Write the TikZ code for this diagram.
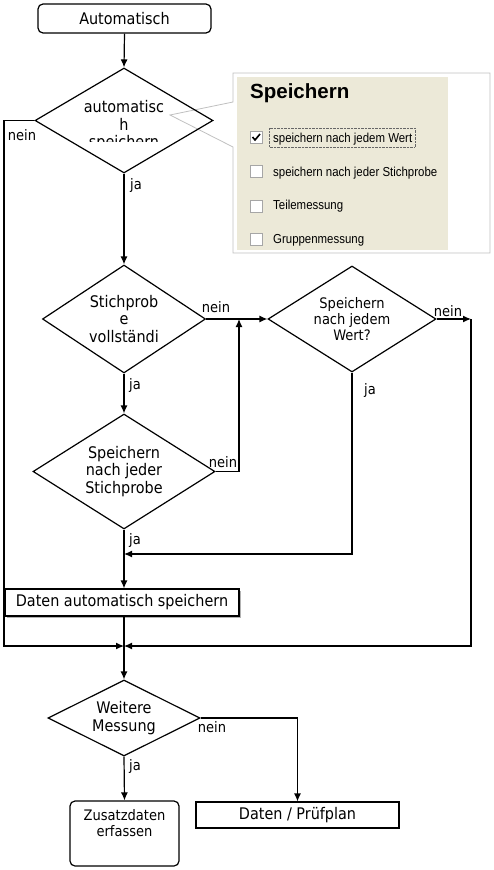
\documentclass[tikz,border=0pt]{standalone}
\usepackage{fontspec}
\setmainfont{DejaVu Sans Condensed}
\newfontfamily\panelfont{Liberation Sans}[FakeStretch=0.88]
\newfontfamily\panelhead{Liberation Sans}
\usepackage{xcolor}
\usepackage{tikz}
\usetikzlibrary{shapes.geometric}
\usetikzlibrary{arrows.meta}
\usetikzlibrary{positioning}
\usetikzlibrary{shadows}

\definecolor{panelbeige}{RGB}{236,233,216}
\definecolor{panelrim}{RGB}{192,192,192}

\newcommand{\flowtext}{\fontsize{16}{17.5}\selectfont}
\newcommand{\flowsmall}{\fontsize{14.5}{16}\selectfont}

\tikzset{
  link/.style={line width=1.2pt},
  flow/.style={link, -{Latex[length=8pt,width=7pt]}},
  decision/.style={diamond, draw, line width=1.2pt, inner sep=0pt, align=center, font=\flowtext},
  procbox/.style={rectangle, draw, line width=1.2pt, fill=white, font=\flowtext},
  roundbox/.style={procbox, rounded corners=5pt},
  answer/.style={font=\flowsmall, inner sep=0pt},
  checkbox/.style={draw=gray!70, fill=white, line width=0.8pt, minimum size=12pt, inner sep=0pt},
  option/.style={font=\panelfont\fontsize{13}{15}\selectfont, anchor=base west, inner sep=0pt},
}

\begin{document}
\begin{tikzpicture}[x=1pt,y=-1pt]
\useasboundingbox (0,0) rectangle (493,870);
% dialog screenshot
\fill[white] (233,73) rectangle (490,253);
\fill[panelbeige] (237,77) rectangle (448,250);
\draw[panelrim, line width=0.8pt] (170,115) -- (233,102) -- (233,73) -- (490,73)
   -- (490,253) -- (233,253) -- (233,147) -- cycle;
\node[anchor=base west, inner sep=0pt, font=\panelhead\bfseries\fontsize{20.5}{24}\selectfont] (dlgTitle) at (250,98.5) {Speichern};
\node[checkbox] (cbValue) at (256.5,137.5) {};
\node[checkbox] (cbSample) at (256.5,171) {};
\node[checkbox] (cbPart) at (256.5,206) {};
\node[checkbox] (cbGroup) at (256.5,239.5) {};
\draw[line width=1.6pt] (252.5,137) -- (255,140) -- (260,134);
\node[option] (optValue) at (273,142.7) {speichern nach jedem Wert};
\draw[densely dotted, gray!80!black] (269,128) rectangle (415,147);
\node[option] (optSample) at (273,176) {speichern nach jeder Stichprobe};
\node[option] (optPart) at (273,209) {Teilemessung};
\node[option] (optGroup) at (273,243) {Gruppenmessung};

% flow chart
\node[roundbox, minimum width=173pt, minimum height=29pt] (start) at (124.5,18.5) {Automatisch};
\node[decision, minimum width=178pt, minimum height=105pt] (decAuto) at (124,120.5) {};
\begin{scope}
\clip (35,68) rectangle (213,141.5);
\node[font=\flowtext, align=center] (autoText) at (124,126) {automatisc\\h\\speichern};
\end{scope}
\node[decision, aspect=1.5, minimum width=163pt, minimum height=108pt] (decSample) at (124,319) {Stichprob\\e\\vollständi};
\node[decision, aspect=1.6, minimum width=168pt, minimum height=106pt, font=\flowsmall] (decValue) at (352,319) {Speichern\\nach jedem\\Wert?};
\node[decision, aspect=1.6, minimum width=182pt, minimum height=115pt] (decGroup) at (124,471.5) {Speichern\\nach jeder\\Stichprobe};
\node[procbox, minimum width=234pt, minimum height=27pt,
   drop shadow={shadow xshift=1.5pt, shadow yshift=-1.5pt, fill=gray!60, opacity=1}] (save) at (122,602.5) {Daten automatisch speichern};
\node[decision, aspect=2, minimum width=152pt, minimum height=76pt] (decMore) at (124,718) {Weitere\\Messung};
\node[roundbox, minimum width=109pt, minimum height=65pt] (extra) at (124.5,833.5) {};
\node[below=6pt of extra.north, font=\flowsmall, align=center] (extraText) {Zusatzdaten\\erfassen};
\node[procbox, minimum width=203pt, minimum height=26pt] (plan) at (297.5,815) {Daten / Prüfplan};

\coordinate (railL) at (4,646);
\coordinate (join) at (124,646);
\coordinate (railRtop) at (471,319);
\coordinate (railR) at (471,646);
\coordinate (mergeA) at (124,554);
\coordinate (upJoin) at (239,319);

\draw[flow] (start.south) -- (decAuto.north);
\draw[flow] (decAuto.west) -| (railL) -- (join);
\draw[flow] (decAuto.south) -- (decSample.north);
\draw[flow] (decSample.east) -- (decValue.west);
\draw[flow] (decValue.east) -- (railRtop);
\draw[flow] (railRtop) -- (railR) -- (join);
\draw[flow] (decValue.south) |- (mergeA);
\draw[flow] (decSample.south) -- (decGroup.north);
\draw[flow] (decGroup.east) -| (upJoin);
\draw[flow] (decGroup.south) -- (decGroup.south |- save.north);
\draw[link] (join |- save.south) -- (join);
\draw[flow] (join) -- (decMore.north);
\draw[flow] (decMore.east) -| (plan.north);
\draw[flow] (decMore.south) -- (extra.north);

\node[answer] (neinAuto) at (22,135) {nein};
\node[answer] (jaAuto) at (136,185) {ja};
\node[answer] (neinSample) at (216,307.5) {nein};
\node[answer] (jaSample) at (135,385) {ja};
\node[answer] (neinValue) at (448,311) {nein};
\node[answer] (jaValue) at (370,390) {ja};
\node[answer] (neinGroup) at (223,462) {nein};
\node[answer] (jaGroup) at (135,540) {ja};
\node[answer] (neinMore) at (212,727) {nein};
\node[answer] (jaMore) at (135,766) {ja};
\end{tikzpicture}
\end{document}
